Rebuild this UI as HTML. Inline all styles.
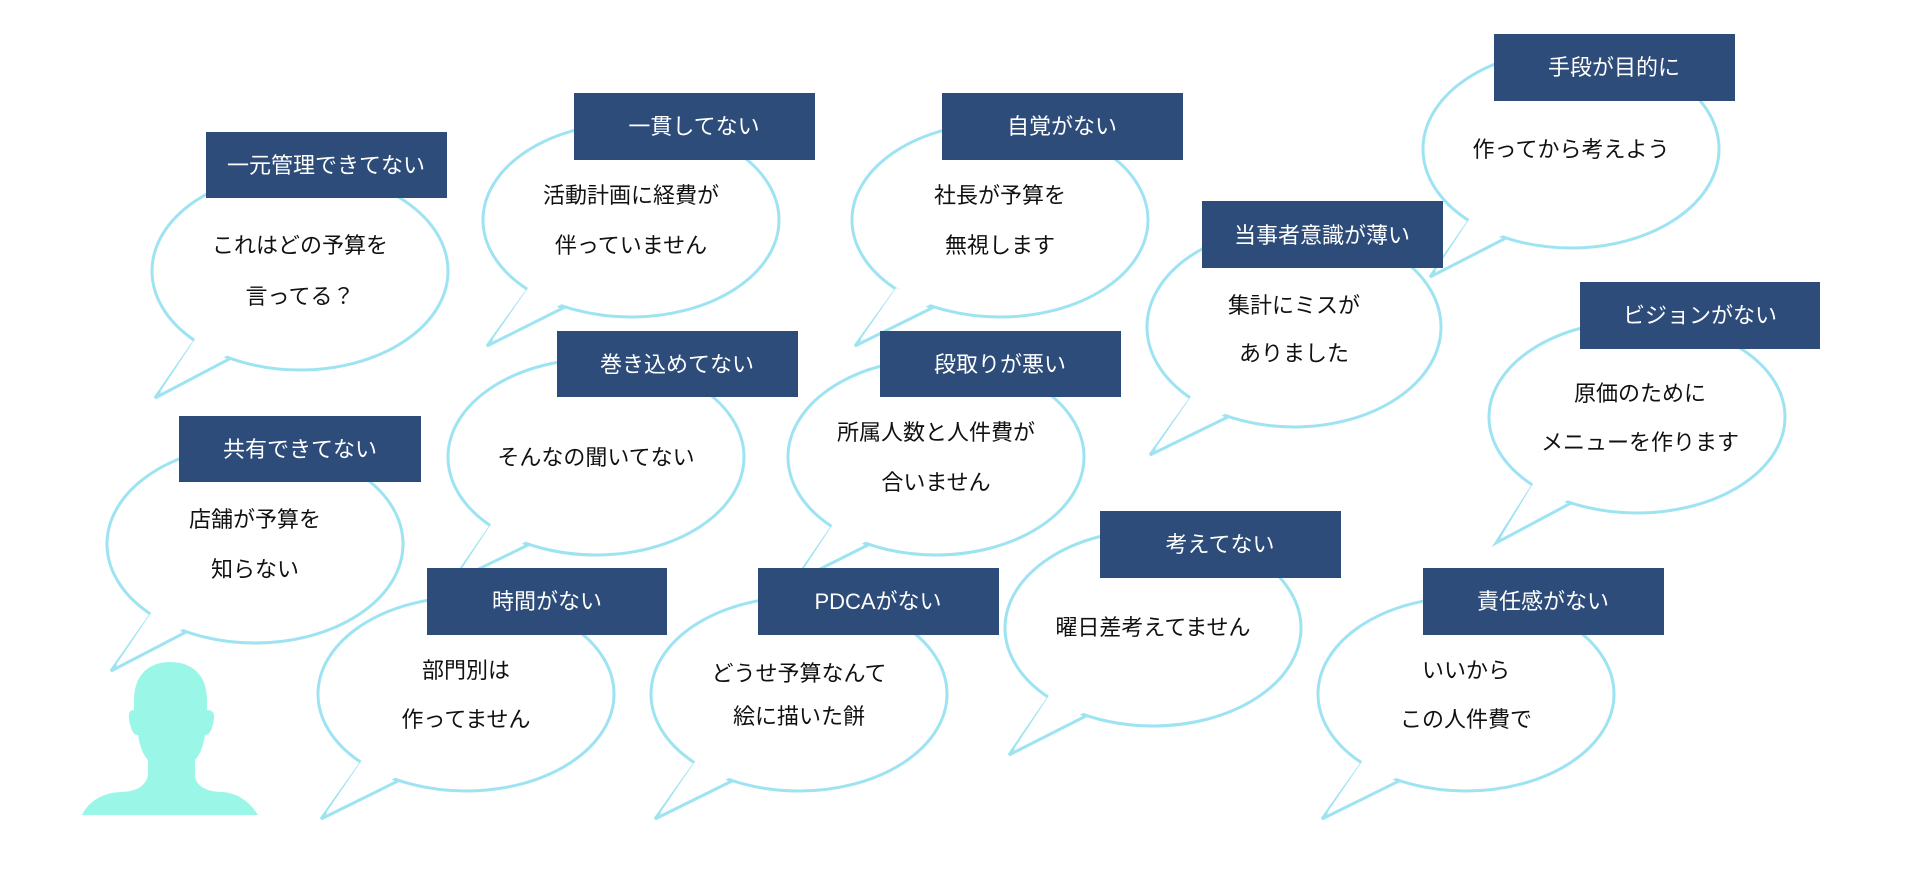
<!DOCTYPE html>
<html><head><meta charset="utf-8"><style>
html,body{margin:0;padding:0;background:#fff;width:1920px;height:883px;overflow:hidden}
svg text{font-family:"Liberation Sans","Noto Sans CJK JP",sans-serif}
.t{font-size:22px;fill:#111;text-anchor:middle}
.l{font-size:22px;fill:#fff;text-anchor:middle}
</style></head><body>
<svg width="1920" height="883" viewBox="0 0 1920 883" xmlns="http://www.w3.org/2000/svg">
<defs>
<style>
.s{fill:#fff;stroke:#9ee3f2;stroke-width:3;stroke-linejoin:miter}
.f{fill:#fff;stroke:none}
.b{fill:#2d4c79}
</style>
</defs>
<!-- person -->
<path fill="#9af7e7" d="M170,662 C150,662 134,674 134,700 L134,710 C128,710 128,716 130,724 C132,732 134,735 138,735 C140,748 144,756 148,760 L148,775 C146,786 136,792 120,792 C98,793 86,806 82,815 L258,815 C252,805 240,793 222,792 C206,792 195,785 195,775 L195,760 C199,756 203,748 205,735 C209,735 211,732 213,724 C215,716 215,710 207,710 L207,700 C207,674 191,662 170,662 Z"/>

<!-- B1 -->
<polygon class="s" points="196,339 155,398 233,357"/>
<ellipse class="s" cx="300" cy="271" rx="148" ry="99"/>
<polygon class="f" points="197,336 160,392 232,353"/>
<rect class="b" x="206" y="132" width="241" height="66"/>
<text class="l" x="326" y="173">一元管理できてない</text>
<text class="t" x="300" y="253">これはどの予算を</text>
<text class="t" x="300" y="304">言ってる？</text>

<!-- B2 -->
<polygon class="s" points="527,291 487,346 563,308"/>
<ellipse class="s" cx="631" cy="220" rx="148" ry="97"/>
<polygon class="f" points="528,288 492,340 562,304"/>
<rect class="b" x="574" y="93" width="241" height="67"/>
<text class="l" x="694" y="134">一貫してない</text>
<text class="t" x="631" y="203">活動計画に経費が</text>
<text class="t" x="631" y="253">伴っていません</text>

<!-- B3 -->
<polygon class="s" points="895,291 855,346 932,308"/>
<ellipse class="s" cx="1000" cy="220" rx="148" ry="97"/>
<polygon class="f" points="896,288 860,340 931,304"/>
<rect class="b" x="942" y="93" width="241" height="67"/>
<text class="l" x="1062" y="134">自覚がない</text>
<text class="t" x="1000" y="203">社長が予算を</text>
<text class="t" x="1000" y="253">無視します</text>

<!-- B9 -->
<polygon class="s" points="1471,218 1430,277 1508,237"/>
<ellipse class="s" cx="1571" cy="149" rx="148" ry="99"/>
<polygon class="f" points="1472,215 1435,271 1507,233"/>
<rect class="b" x="1494" y="34" width="241" height="67"/>
<text class="l" x="1614" y="75">手段が目的に</text>
<text class="t" x="1571" y="157">作ってから考えよう</text>

<!-- B10 -->
<polygon class="s" points="1191,398 1150,455 1228,417"/>
<ellipse class="s" cx="1294" cy="327" rx="147" ry="100"/>
<polygon class="f" points="1192,395 1155,449 1227,413"/>
<rect class="b" x="1202" y="201" width="241" height="67"/>
<text class="l" x="1322" y="243">当事者意識が薄い</text>
<text class="t" x="1294" y="313">集計にミスが</text>
<text class="t" x="1294" y="361">ありました</text>

<!-- B4 -->
<polygon class="s" points="490,527 452,582 528,545"/>
<ellipse class="s" cx="596" cy="457" rx="148" ry="98"/>
<polygon class="f" points="491,524 457,576 527,541"/>
<rect class="b" x="557" y="331" width="241" height="66"/>
<text class="l" x="677" y="372">巻き込めてない</text>
<text class="t" x="596" y="465">そんなの聞いてない</text>

<!-- B5 -->
<polygon class="s" points="832,527 794,582 868,545"/>
<ellipse class="s" cx="936" cy="457" rx="148" ry="98"/>
<polygon class="f" points="833,524 799,576 867,541"/>
<rect class="b" x="880" y="331" width="241" height="66"/>
<text class="l" x="1000" y="372">段取りが悪い</text>
<text class="t" x="936" y="440">所属人数と人件費が</text>
<text class="t" x="936" y="490">合いません</text>

<!-- B6 -->
<polygon class="s" points="152,613 111,671 188,631"/>
<ellipse class="s" cx="255" cy="544" rx="148" ry="99"/>
<polygon class="f" points="153,610 116,665 187,627"/>
<rect class="b" x="179" y="416" width="242" height="66"/>
<text class="l" x="300" y="457">共有できてない</text>
<text class="t" x="255" y="527">店舗が予算を</text>
<text class="t" x="255" y="577">知らない</text>

<!-- B11 -->
<polygon class="s" points="1533,485 1496,543 1571,503"/>
<ellipse class="s" cx="1637" cy="417" rx="148" ry="96"/>
<polygon class="f" points="1534,482 1501,537 1570,499"/>
<rect class="b" x="1580" y="282" width="240" height="67"/>
<text class="l" x="1700" y="323">ビジョンがない</text>
<text class="t" x="1640" y="401">原価のために</text>
<text class="t" x="1640" y="450">メニューを作ります</text>

<!-- B12 -->
<polygon class="s" points="1049,697 1009,755 1086,716"/>
<ellipse class="s" cx="1153" cy="628" rx="148" ry="98"/>
<polygon class="f" points="1050,694 1014,749 1085,712"/>
<rect class="b" x="1100" y="511" width="241" height="67"/>
<text class="l" x="1220" y="552">考えてない</text>
<text class="t" x="1153" y="635">曜日差考えてません</text>

<!-- B7 -->
<polygon class="s" points="361,763 321,819 398,781"/>
<ellipse class="s" cx="466" cy="694" rx="148" ry="97"/>
<polygon class="f" points="362,760 326,813 397,777"/>
<rect class="b" x="427" y="568" width="240" height="67"/>
<text class="l" x="547" y="609">時間がない</text>
<text class="t" x="466" y="678">部門別は</text>
<text class="t" x="466" y="727">作ってません</text>

<!-- B8 -->
<polygon class="s" points="695,763 655,819 732,781"/>
<ellipse class="s" cx="799" cy="694" rx="148" ry="97"/>
<polygon class="f" points="696,760 660,813 731,777"/>
<rect class="b" x="758" y="568" width="241" height="67"/>
<text class="l" x="878" y="609">PDCAがない</text>
<text class="t" x="799" y="681">どうせ予算なんて</text>
<text class="t" x="799" y="724">絵に描いた餅</text>

<!-- B13 -->
<polygon class="s" points="1362,763 1322,819 1399,781"/>
<ellipse class="s" cx="1466" cy="694" rx="148" ry="97"/>
<polygon class="f" points="1363,760 1327,813 1398,777"/>
<rect class="b" x="1423" y="568" width="241" height="67"/>
<text class="l" x="1543" y="609">責任感がない</text>
<text class="t" x="1466" y="678">いいから</text>
<text class="t" x="1466" y="727">この人件費で</text>
</svg>
</body></html>
